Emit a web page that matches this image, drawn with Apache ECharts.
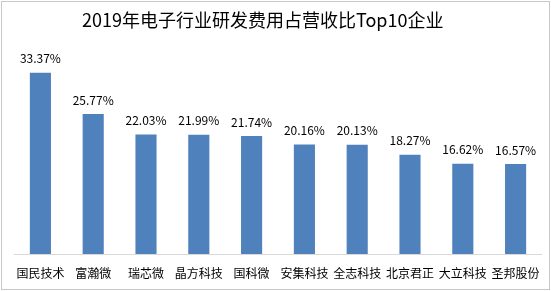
<!DOCTYPE html>
<html>
<head>
<meta charset="utf-8">
<script src="https://cdn.jsdelivr.net/npm/echarts@6/dist/echarts.min.js"></script>
<style>
  body { margin: 0; background: #fff; }
  #main { position: absolute; left: 1px; top: 1px; width: 547px; height: 287px; border: 1px solid #c8c8c8; }
</style>
</head>
<body>
<div id="main"></div>
<script type="text/javascript">
  // 数据
  var companies = ['国民技术', '富瀚微', '瑞芯微', '晶方科技', '国科微', '安集科技', '全志科技', '北京君正', '大立科技', '圣邦股份'];
  var ratios = [33.37, 25.77, 22.03, 21.99, 21.74, 20.16, 20.13, 18.27, 16.62, 16.57];

  var myChart = echarts.init(document.getElementById('main'));
  var option = {
    animation: false,
    title: {
      text: '2019年电子行业研发费用占营收比Top10企业',
      left: 75,
      top: 4,
      textStyle: { fontFamily: 'Noto Sans CJK SC', fontSize: 18, fontWeight: 'normal', color: '#000' }
    },
    grid: { left: 12, right: 7, top: 62, bottom: 35 },
    xAxis: {
      type: 'category',
      data: companies,
      axisLine: { lineStyle: { color: '#d9d9d9', width: 1 } },
      axisTick: { show: false },
      axisLabel: { fontFamily: 'Noto Sans CJK SC', fontSize: 12, color: '#000', margin: 13, interval: 0 }
    },
    yAxis: {
      type: 'value',
      min: 0,
      max: 35,
      show: false,
      splitLine: { show: false }
    },
    series: [{
      type: 'bar',
      data: ratios,
      barWidth: '40%',
      itemStyle: { color: '#4f81bd' },
      label: {
        show: true,
        position: 'top',
        distance: 8,
        formatter: function (p) { return p.value.toFixed(2) + '%'; },
        fontFamily: 'Noto Sans CJK SC',
        fontSize: 12,
        color: '#000'
      }
    }]
  };
  myChart.setOption(option);
</script>
</body>
</html>
